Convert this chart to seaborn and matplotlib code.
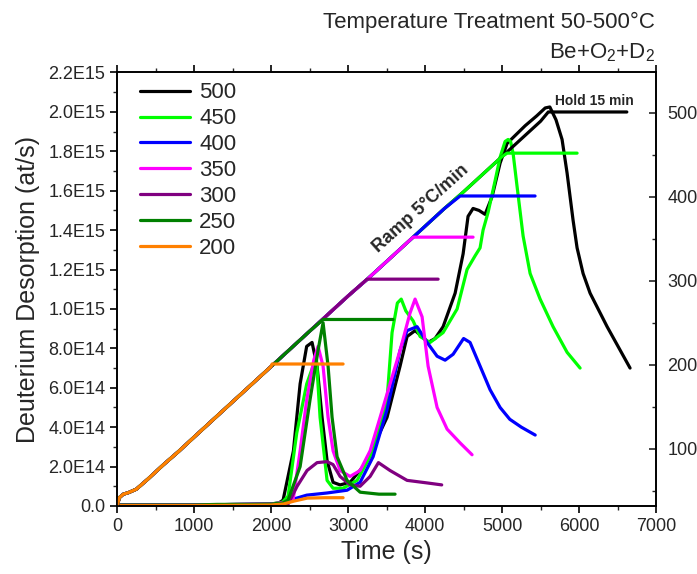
import numpy as np
import pandas as pd
import matplotlib
matplotlib.use("Agg")
import matplotlib.pyplot as plt
from matplotlib.ticker import FixedLocator, MultipleLocator
import seaborn as sns

# ---------------- data ----------------
series = ["500", "450", "400", "350", "300", "250", "200"]
colors = ["#000000", "#00FF00", "#0000FF", "#FF00FF", "#800080", "#008000", "#FF8000"]

# Deuterium desorption rate (units of 1E14 at/s) versus time (s)
t500 = [0, 1000, 2000, 2100, 2156, 2290, 2377, 2462, 2532, 2597, 2662, 2727, 2805, 2896, 3026, 3195,
        3325, 3506, 3675, 3766, 3870, 3960, 4039, 4130, 4234, 4390, 4494, 4558, 4623, 4700, 4779, 4870,
        4974, 5065, 5169, 5300, 5450, 5560, 5620, 5700, 5779, 5844, 5922, 5974, 6052, 6143, 6364, 6662]
d500 = [0.05, 0.05, 0.1, 0.15, 0.3, 2.8, 6.2, 8.1, 8.3, 7.1, 4.5, 2.3, 1.2, 1.07, 1.2, 2.0,
        3.0, 4.5, 7.1, 8.6, 8.9, 8.6, 8.3, 8.5, 9.1, 10.8, 12.8, 14.7, 15.1, 15.0, 14.8, 15.7,
        17.4, 18.4, 18.8, 19.3, 19.8, 20.2, 20.25, 19.6, 18.6, 16.9, 14.5, 13.1, 11.8, 10.8, 9.1, 7.0]

t450 = [0, 1000, 2000, 2150, 2221, 2333, 2463, 2554, 2590, 2636, 2727, 2805, 2935, 3117, 3325, 3506,
        3571, 3640, 3690, 3750, 3844, 3935, 4065, 4234, 4416, 4545, 4650, 4714, 4753, 4818, 4909, 4974,
        5039, 5078, 5110, 5143, 5195, 5273, 5364, 5494, 5662, 5844, 6013]
d450 = [0.05, 0.05, 0.1, 0.2, 0.5, 3.7, 6.2, 7.2, 7.4, 4.5, 1.3, 0.9, 0.9, 1.3, 2.8, 5.4,
        8.8, 10.3, 10.5, 9.9, 9.4, 8.6, 8.3, 8.8, 10.0, 12.0, 12.7, 13.1, 14.0, 14.9, 16.5, 17.7,
        18.5, 18.6, 18.5, 17.9, 16.2, 13.7, 11.8, 10.5, 9.1, 7.8, 7.0]

t400 = [0, 1000, 2000, 2150, 2247, 2463, 2727, 2987, 3156, 3325, 3506, 3675, 3766, 3896, 4026, 4156,
        4260, 4364, 4500, 4584, 4714, 4844, 4974, 5100, 5250, 5430]
d400 = [0.05, 0.05, 0.1, 0.15, 0.3, 0.55, 0.66, 0.8, 1.2, 2.5, 4.9, 7.9, 8.9, 9.1, 8.3, 7.6,
        7.4, 7.7, 8.5, 8.3, 7.1, 5.9, 5.0, 4.4, 4.0, 3.6]

t350 = [0, 1000, 2000, 2200, 2286, 2377, 2463, 2554, 2610, 2675, 2740, 2805, 2896, 3026, 3156, 3286,
        3416, 3545, 3675, 3805, 3870, 3961, 4039, 4156, 4286, 4455, 4610]
d350 = [0.05, 0.05, 0.1, 0.2, 0.3, 2.8, 5.4, 7.4, 8.1, 7.1, 4.5, 2.8, 1.8, 1.5, 1.8, 2.8,
        4.5, 6.2, 7.9, 9.8, 10.5, 9.6, 7.1, 5.0, 3.9, 3.2, 2.6]

t300 = [0, 1000, 2000, 2221, 2338, 2467, 2597, 2727, 2805, 2896, 3026, 3156, 3286, 3394, 3545, 3766,
        4026, 4216]
d300 = [0.02, 0.02, 0.05, 0.1, 1.0, 1.8, 2.2, 2.25, 2.1, 1.5, 1.07, 1.0, 1.5, 2.2, 1.8, 1.3,
        1.17, 1.07]

t250 = [0, 1000, 1300, 1500, 1700, 2000, 2150, 2221, 2377, 2506, 2610, 2675, 2740, 2792, 2857, 2987,
        3156, 3400, 3610]
d250 = [0.05, 0.05, 0.08, 0.08, 0.08, 0.1, 0.15, 0.3, 2.0, 5.4, 7.9, 9.3, 7.1, 4.5, 2.5, 1.3,
        0.7, 0.6, 0.6]

t200 = [0, 1000, 2000, 2160, 2300, 2470, 2700, 2935]
d200 = [0.02, 0.02, 0.05, 0.1, 0.25, 0.4, 0.42, 0.42]

desorb_time = [t500, t450, t400, t350, t300, t250, t200]
desorb_rate = [d500, d450, d400, d350, d300, d250, d200]

# Shared 5 C/min heating ramp (time s, temperature C)
ramp_time = [0, 30, 80, 150, 250, 400, 600, 800, 1000, 1250, 1500, 1750, 2000, 2250, 2500,
             2750, 3000, 3250, 3500, 3750, 4000, 4250, 4500, 4750, 5000, 5250, 5500]
ramp_temp = [32, 42, 46, 48, 52, 64, 81, 97, 114, 135, 156, 177, 198, 219, 240,
             261, 282, 302, 323, 344, 365, 386, 406, 427, 448, 469, 490]

# Isothermal hold for each run: temperature, start, end
hold_temp = [501, 452, 401, 352, 302, 254, 201]
hold_start = [5600, 5065, 4455, 3844, 3247, 2675, 2013]
hold_end = [6620, 5974, 5428, 4623, 4169, 3584, 2935]

left_ticks = [0, 2e14, 4e14, 6e14, 8e14, 1e15, 1.2e15, 1.4e15, 1.6e15, 1.8e15, 2.0e15, 2.2e15]
left_labels = ["0.0", "2.0E14", "4.0E14", "6.0E14", "8.0E14", "1.0E15", "1.2E15",
               "1.4E15", "1.6E15", "1.8E15", "2.0E15", "2.2E15"]
right_ticks = [100, 200, 300, 400, 500]
x_ticks = [0, 1000, 2000, 3000, 4000, 5000, 6000, 7000]

# ---------------- style ----------------
sns.set_theme(style="ticks")
plt.rcParams["font.family"] = ["Liberation Sans", "DejaVu Sans"]
plt.rcParams["mathtext.fontset"] = "custom"
plt.rcParams["mathtext.rm"] = "Liberation Sans"
plt.rcParams["mathtext.it"] = "Liberation Sans:italic"
plt.rcParams["axes.linewidth"] = 1.2

fig = plt.figure(figsize=(6.97, 5.74), dpi=100)
ax = fig.add_axes([0.168, 0.1185, 0.7733, 0.7552])
ax2 = ax.twinx()

lw = 2.3
# temperature traces (right axis)
for i, name in enumerate(series):
    tt = [t for t in ramp_time if t < hold_start[i]] + [hold_start[i], hold_end[i]]
    TT = [T for t, T in zip(ramp_time, ramp_temp) if t < hold_start[i]] + [hold_temp[i], hold_temp[i]]
    df = pd.DataFrame({"time": tt, "temp": TT})
    sns.lineplot(data=df, x="time", y="temp", ax=ax2, color=colors[i], lw=lw, sort=False,
                 legend=False)

# desorption traces (left axis)
for i, name in enumerate(series):
    df = pd.DataFrame({"time": desorb_time[i], "rate": np.array(desorb_rate[i]) * 1e14})
    sns.lineplot(data=df, x="time", y="rate", ax=ax, color=colors[i], lw=lw, sort=False,
                 label=name)

ax.set_xlim(0, 7000)
ax.set_ylim(0, 2.2e15)
ax2.set_ylim(32, 548)

ax.xaxis.set_major_locator(FixedLocator(x_ticks))
ax.xaxis.set_minor_locator(MultipleLocator(500))
ax.yaxis.set_major_locator(FixedLocator(left_ticks))
ax.set_yticklabels(left_labels)
ax.yaxis.set_minor_locator(MultipleLocator(1e14))
ax2.yaxis.set_major_locator(FixedLocator(right_ticks))
ax2.yaxis.set_minor_locator(MultipleLocator(50))

ax.tick_params(axis="both", which="major", direction="out", length=5, width=1.2, labelsize=13,
               top=True, color="black")
ax.tick_params(axis="both", which="minor", direction="out", length=3, width=1.0)
ax.tick_params(axis="x", which="both", top=True)
ax2.tick_params(axis="y", which="major", direction="in", length=5, width=1.2, labelsize=13, pad=8)
ax2.tick_params(axis="y", which="minor", direction="in", length=3, width=1.0)

for a in (ax, ax2):
    for s in a.spines.values():
        s.set_visible(True)
        s.set_color("black")
        s.set_linewidth(1.2)

ax.set_xlabel("Time (s)", fontsize=18, labelpad=4)
ax.set_ylabel("Deuterium Desorption (at/s)", fontsize=18, labelpad=6)
ax2.set_ylabel("")

ax.legend(loc="upper left", bbox_to_anchor=(0.043, 0.977), frameon=False, fontsize=16,
          handlelength=2.25, handletextpad=0.4, labelspacing=0.22, borderpad=0,
          borderaxespad=0)

ax.text(3950, 15.1e14, "Ramp 5\u00b0C/min", rotation=42, rotation_mode="anchor",
        ha="center", va="center", fontsize=13, fontweight="bold")
ax.text(5688, 20.56e14, "Hold 15 min", ha="left", va="center", fontsize=10, fontweight="bold")

fig.text(0.94, 1 - 28 / 574, "Temperature Treatment 50-500\u00b0C", ha="right", va="baseline",
         fontsize=16)
fig.text(0.94, 1 - 58 / 574, "Be+O$_2$+D$_2$", ha="right", va="baseline", fontsize=16)

fig.savefig("out.png", dpi=100)
